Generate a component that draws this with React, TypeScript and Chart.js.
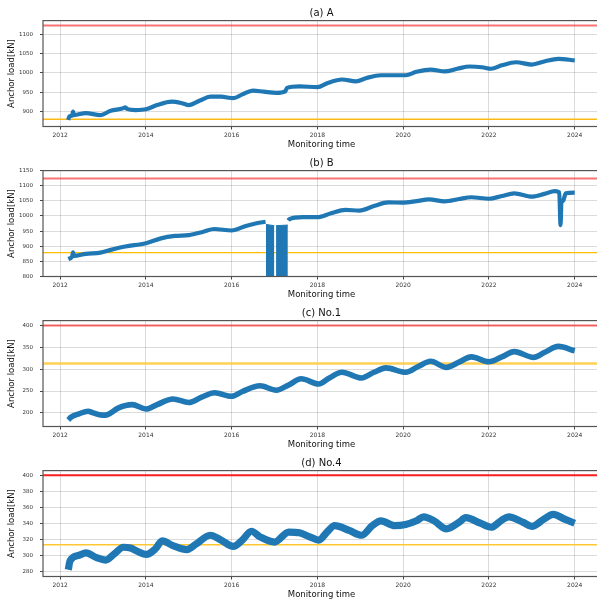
import React, { useEffect, useRef } from "react";
import { Chart, registerables } from "chart.js";
Chart.register(...registerables);

const FONT = "'DejaVu Sans', sans-serif";
const X_TICKS = [2012, 2014, 2016, 2018, 2020, 2022, 2024];
const X_MIN = 2011.6;
const X_MAX = 2024.59;

// (a) A
const A_YEARS = [2012.19, 2012.21, 2012.28, 2012.3, 2012.32, 2012.6, 2012.94, 2013.18, 2013.45, 2013.52, 2013.56, 2013.76, 2014.0, 2014.26, 2014.6, 2014.84, 2015.0, 2015.26, 2015.5, 2015.75, 2016.04, 2016.25, 2016.5, 2016.75, 2017.04, 2017.25, 2017.29, 2017.58, 2018.0, 2018.24, 2018.57, 2018.9, 2019.15, 2019.48, 2019.8, 2020.06, 2020.31, 2020.64, 2020.97, 2021.26, 2021.55, 2021.84, 2022.05, 2022.3, 2022.63, 2023.0, 2023.29, 2023.62, 2024.0];
const A_LOAD = [877, 886, 889, 899, 890, 895, 890, 901, 907, 910, 906, 903, 905, 916, 925, 921, 916, 928, 938, 938, 934, 944, 954, 951, 948, 952, 961, 965, 963, 974, 983, 978, 987, 994, 994, 994, 1003, 1009, 1004, 1011, 1017, 1015, 1011, 1020, 1028, 1022, 1030, 1037, 1033];
const A_Y_TICKS = [900, 950, 1000, 1050, 1100];

// (b) B
const B_YEARS = [2012.19, 2012.28, 2012.3, 2012.32, 2012.6, 2012.94, 2013.18, 2013.52, 2014.0, 2014.35, 2014.68, 2015.0, 2015.34, 2015.59, 2016.0, 2016.33, 2016.58, 2016.79, 2016.82, 2017.32, 2017.34, 2017.66, 2018.0, 2018.32, 2018.65, 2018.98, 2019.32, 2019.65, 2019.98, 2020.31, 2020.6, 2020.97, 2021.3, 2021.59, 2022.0, 2022.3, 2022.59, 2023.0, 2023.29, 2023.54, 2023.64, 2023.67, 2023.69, 2023.73, 2023.79, 2024.0];
const B_LOAD = [858, 866, 880, 868, 875, 879, 888, 899, 910, 926, 934, 937, 948, 957, 952, 967, 976, 981, null, 985, 989, 996, 996, 1009, 1020, 1018, 1033, 1045, 1044, 1049, 1055, 1048, 1056, 1062, 1057, 1066, 1075, 1064, 1073, 1082, 1078, 970, 1045, 1050, 1075, 1077];
// outage blocks of (b), drawn down to the axis
const B_OUT1_YEARS = [2016.8, 2016.995];
const B_OUT1_LOAD = [972, 968];
const B_OUT2_YEARS = [2017.035, 2017.31];
const B_OUT2_LOAD = [968, 970];
const B_Y_TICKS = [800, 850, 900, 950, 1000, 1050, 1100, 1150];

// (c) No.1
const C_YEARS = [2012.19, 2012.25, 2012.44, 2012.65, 2012.77, 2012.98, 2013.1, 2013.35, 2013.68, 2014.0, 2014.26, 2014.63, 2015.0, 2015.3, 2015.6, 2016.0, 2016.25, 2016.66, 2017.04, 2017.33, 2017.62, 2018.03, 2018.28, 2018.57, 2019.03, 2019.32, 2019.6, 2020.06, 2020.35, 2020.64, 2021.01, 2021.3, 2021.59, 2022.0, 2022.3, 2022.59, 2023.04, 2023.29, 2023.62, 2024.0];
const C_LOAD = [184, 190, 198, 204, 200, 195, 196, 211, 219, 209, 219, 232, 224, 236, 246, 238, 249, 262, 252, 264, 278, 266, 280, 293, 280, 293, 303, 293, 306, 318, 304, 316, 328, 317, 328, 340, 327, 338, 352, 342];
const C_Y_TICKS = [200, 250, 300, 350, 400];

// (d) No.4
const D_YEARS = [2012.19, 2012.23, 2012.44, 2012.6, 2012.85, 2013.06, 2013.27, 2013.47, 2013.64, 2013.8, 2014.01, 2014.22, 2014.38, 2014.63, 2014.96, 2015.17, 2015.5, 2015.75, 2016.04, 2016.25, 2016.46, 2016.66, 2017.0, 2017.33, 2017.58, 2017.82, 2018.03, 2018.24, 2018.4, 2018.74, 2019.03, 2019.28, 2019.48, 2019.8, 2020.06, 2020.31, 2020.48, 2020.72, 2021.01, 2021.3, 2021.46, 2021.8, 2022.05, 2022.3, 2022.46, 2022.8, 2023.0, 2023.29, 2023.5, 2023.75, 2024.0];
const D_LOAD = [282, 293, 300, 303, 297, 294, 302, 310, 309, 305, 301, 308, 318, 312, 307, 314, 325, 319, 311, 319, 330, 323, 316.5, 329, 328, 323, 319, 330, 337, 331, 325, 337, 343, 337, 338.5, 343, 348, 343, 333, 341, 347, 340, 335, 344, 348, 341, 336, 345.5, 351, 345.5, 340];
const D_Y_TICKS = [280, 300, 320, 340, 360, 380, 400];

const LIMIT_AB = 1124;
const DESIGN_AB = 879;
const LIMIT_CD = 400;
const DESIGN_CD = 313;

const PANELS = [
  { title: "(a) A", years: A_YEARS, load: A_LOAD, yMin: 860, yMax: 1137, yTicks: A_Y_TICKS, limit: LIMIT_AB, design: DESIGN_AB, band: 4.2, limitColor: "rgba(245,40,40,0.65)", designColor: "rgb(250,185,20)", designWidth: 1.4 },
  { title: "(b) B", years: B_YEARS, load: B_LOAD, outs: [[B_OUT1_YEARS, B_OUT1_LOAD], [B_OUT2_YEARS, B_OUT2_LOAD]], yMin: 800, yMax: 1150, yTicks: B_Y_TICKS, limit: LIMIT_AB, design: DESIGN_AB, band: 4.2, limitColor: "rgba(245,40,40,0.65)", designColor: "rgb(255,190,0)", designWidth: 1.4 },
  { title: "(c) No.1", years: C_YEARS, load: C_LOAD, yMin: 169, yMax: 411, yTicks: C_Y_TICKS, limit: LIMIT_CD, design: DESIGN_CD, band: 5.6, limitColor: "rgba(245,40,40,0.7)", designColor: "rgba(255,200,50,0.85)", designWidth: 2.4 },
  { title: "(d) No.4", years: D_YEARS, load: D_LOAD, yMin: 273.5, yMax: 405.7, yTicks: D_Y_TICKS, limit: LIMIT_CD, design: DESIGN_CD, band: 7.2, limitColor: "rgb(250,30,30)", designColor: "rgb(255,200,50)", designWidth: 1.5 },
];

const framePlugin = {
  id: "frame",
  afterDraw(chart: any) {
    const { ctx, chartArea } = chart;
    const { left, top, right, bottom } = chartArea;
    ctx.save();
    ctx.strokeStyle = "#555";
    ctx.lineWidth = 1.2;
    ctx.strokeRect(left, top, right - left, bottom - top);
    ctx.restore();
  },
};

function buildConfig(p: any) {
  const series = p.years.map((x: number, i: number) => ({ x, y: p.load[i] }));
  const datasets: any[] = [
    { data: [{ x: X_MIN, y: p.limit }, { x: X_MAX, y: p.limit }], borderColor: p.limitColor, borderWidth: 2, pointRadius: 0, order: 4 },
    { data: [{ x: X_MIN, y: p.design }, { x: X_MAX, y: p.design }], borderColor: p.designColor, borderWidth: p.designWidth, pointRadius: 0, order: 3 },
    { data: series, borderColor: "#1f77b4", borderWidth: p.band, pointRadius: 0, cubicInterpolationMode: "monotone", spanGaps: false, borderJoinStyle: "round", order: 1 },
  ];
  (p.outs || []).forEach(([xs, ys]: [number[], number[]]) => {
    datasets.push({
      data: xs.map((x, i) => ({ x, y: ys[i] })),
      borderColor: "#1f77b4",
      backgroundColor: "#1f77b4",
      borderWidth: 1,
      pointRadius: 0,
      fill: "start",
      order: 2,
    });
  });
  return {
    type: "line",
    data: { datasets },
    plugins: [framePlugin],
    options: {
      responsive: false,
      animation: false,
      layout: { padding: 0 },
      plugins: {
        legend: { display: false },
        tooltip: { enabled: false },
        title: {
          display: true,
          text: p.title,
          fullSize: false,
          color: "#111",
          font: { family: FONT, size: 10, weight: "normal" },
          padding: { top: 7.3, bottom: 1.3 },
        },
      },
      scales: {
        x: {
          type: "linear",
          min: X_MIN,
          max: X_MAX,
          afterBuildTicks: (s: any) => { s.ticks = X_TICKS.map((v) => ({ value: v })); },
          afterFit: (s: any) => { s.height = 23.5; },
          ticks: { callback: (v: any) => String(v), font: { family: FONT, size: 6 }, color: "#333", padding: 2, maxRotation: 0, autoSkip: false },
          grid: { color: "rgba(0,0,0,0.14)", tickLength: 3, tickColor: "#444", lineWidth: 1 },
          border: { display: false },
          title: { display: true, text: "Monitoring time", color: "#111", font: { family: FONT, size: 8.5 }, padding: { top: 0, bottom: 0 } },
        },
        y: {
          type: "linear",
          min: p.yMin,
          max: p.yMax,
          afterBuildTicks: (s: any) => { s.ticks = p.yTicks.map((v: number) => ({ value: v })); },
          afterFit: (s: any) => { s.width = 43; },
          ticks: { callback: (v: any) => String(v), font: { family: FONT, size: 5.5 }, color: "#333", padding: 7, autoSkip: false },
          grid: { color: "rgba(0,0,0,0.14)", tickLength: 3, tickColor: "#444", lineWidth: 1 },
          border: { display: false },
          title: { display: true, text: "Anchor load[kN]", color: "#111", font: { family: FONT, size: 8.5 }, padding: { top: 7, bottom: 0 } },
        },
      },
    },
  };
}

function Panel({ p }: { p: any }) {
  const ref = useRef<HTMLCanvasElement | null>(null);
  useEffect(() => {
    if (!ref.current) return;
    const chart = new Chart(ref.current, buildConfig(p) as any);
    return () => chart.destroy();
  }, [p]);
  return (
    <div style={{ width: 600, height: 150 }}>
      <canvas ref={ref} width={600} height={150} style={{ display: "block" }} />
    </div>
  );
}

export default function App() {
  return (
    <div style={{ position: "absolute", left: 0, top: 0, width: 597, height: 603, overflow: "hidden", background: "#fff" }}>
      {PANELS.map((p) => (
        <Panel key={p.title} p={p} />
      ))}
    </div>
  );
}
